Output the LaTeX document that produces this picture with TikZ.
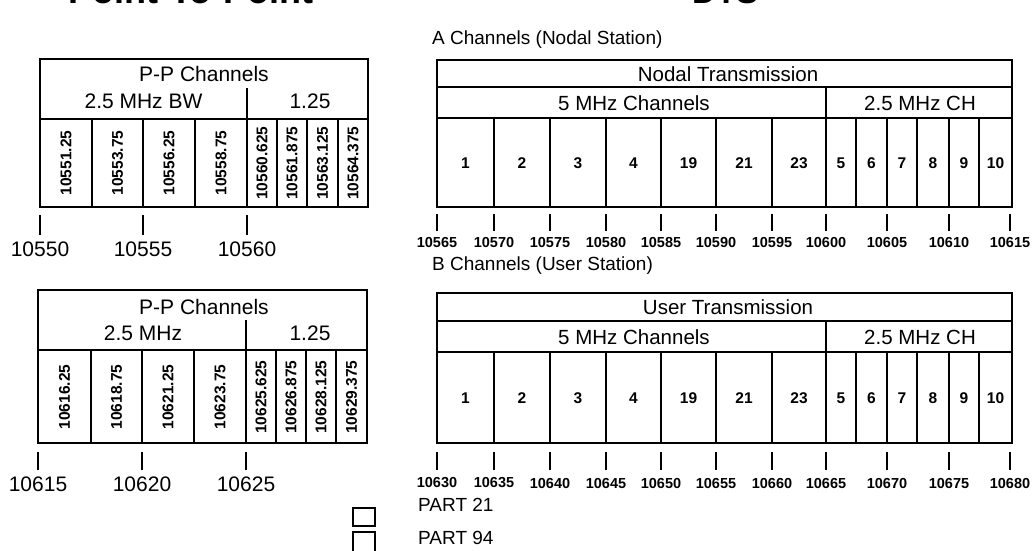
\documentclass[tikz,border=0pt]{standalone}
\usepackage{fontspec}
\setmainfont{Liberation Sans}
\usetikzlibrary{positioning}
\begin{document}
\begin{tikzpicture}[x=1pt,y=-1pt]
\tikzset{frm/.style={line width=2.6pt},dv/.style={line width=2pt},tk/.style={line width=2.6pt},
hd/.style={font=\fontsize{21}{21}\selectfont,inner sep=0pt},
hdr/.style={font=\fontsize{20.5}{20}\selectfont,inner sep=0pt},
fq/.style={font=\bfseries\fontsize{15.5}{15}\selectfont,rotate=90,inner sep=0pt},
num/.style={font=\bfseries\fontsize{15.5}{15}\selectfont,inner sep=0pt},
lbl/.style={font=\fontsize{21}{21}\selectfont,inner sep=0pt},
lbs/.style={font=\bfseries\fontsize{14.5}{14}\selectfont,inner sep=0pt},
captxt/.style={font=\fontsize{19}{19}\selectfont,inner sep=0pt,anchor=west}}
\useasboundingbox (0,0) rectangle (1032,550);
% titles, cut off by the top edge
\node[font=\bfseries\fontsize{36}{36}\selectfont,anchor=base west,inner sep=0pt] (ttlpp) at (68,3) {Point-To-Point};
\node[font=\bfseries\fontsize{33}{33}\selectfont,anchor=base west,inner sep=0pt] (ttldts) at (692,3) {DTS};
% point-to-point, upper
\draw[frm] (40,59) rectangle (368,207);
\draw[dv] (40,119) -- (368,119) (247,88) -- (247,207);
\foreach \x in {92,143,195,277,307,338} \draw[dv] (\x,119) -- (\x,207);
\node[hd] (ppa) at (204,74) {P-P Channels};
\node[hd] (ppabw) at (143.5,101) {2.5 MHz BW}; \node[hd] (ppan) at (310,101) {1.25};
\foreach \x/\f [count=\i] in {66/10551.25,117.5/10553.75,169/10556.25,221/10558.75,262/10560.625,292/10561.875,322.5/10563.125,353/10564.375}
  \node[fq] (fa\i) at (\x,163) {\f};
\foreach \x/\f [count=\i] in {40/10550,143/10555,247/10560} {\draw[tk] (\x,215) -- (\x,235); \node[lbl] (ta\i) at (\x,249) {\f};}
% point-to-point, lower
\draw[frm] (38,290) rectangle (367,443);
\draw[dv] (38,350) -- (367,350) (246,320) -- (246,443);
\foreach \x in {91,142,194,276,306,336} \draw[dv] (\x,350) -- (\x,443);
\node[hd] (ppb) at (204,307) {P-P Channels};
\node[hd] (ppbbw) at (143,333) {2.5 MHz}; \node[hd] (ppbn) at (310,333) {1.25};
\foreach \x/\f [count=\i] in {64.5/10616.25,116.5/10618.75,168/10621.25,220/10623.75,261/10625.625,291/10626.875,321/10628.125,351.5/10629.375}
  \node[fq] (fb\i) at (\x,397) {\f};
\foreach \x/\f [count=\i] in {38/10615,142/10620,246/10625} {\draw[tk] (\x,452) -- (\x,470); \node[lbl] (tb\i) at (\x,484) {\f};}
% A channels
\node[captxt] (capa) at (432,40) {A Channels (Nodal Station)};
\draw[frm] (437,60) rectangle (1012,207);
\draw[dv] (437,87) -- (1012,87) (437,118) -- (1012,118) (826,87) -- (826,207);
\foreach \x in {494,550,606,661,716,772,856,887,917,949,979} \draw[dv] (\x,118) -- (\x,207);
\node[hdr] (nodal) at (728,74) {Nodal Transmission};
\node[hdr] (fiva) at (634,103) {5 MHz Channels}; \node[hdr] (twoa) at (920,103) {2.5 MHz CH};
\foreach \x/\n [count=\i] in {465.5/1,522/2,578/3,633.5/4,688.5/19,744/21,799/23,841/5,871.5/6,902/7,933/8,964/9,995.5/10}
  \node[num] (ca\i) at (\x,163) {\n};
\foreach \x/\f [count=\i] in {437/10565,494/10570,550/10575,606/10580,661/10585,716/10590,772/10595,826/10600,887/10605,949/10610,1010/10615}
  {\draw[tk] (\x,214) -- (\x,231); \node[lbs] (sa\i) at (\x,242) {\f};}
% B channels
\node[captxt] (capb) at (432,266) {B Channels (User Station)};
\draw[frm] (437,293) rectangle (1012,443);
\draw[dv] (437,321) -- (1012,321) (437,352) -- (1012,352) (826,321) -- (826,443);
\foreach \x in {494,550,606,661,716,772,856,887,917,949,979} \draw[dv] (\x,352) -- (\x,443);
\node[hdr] (user) at (728,307) {User Transmission};
\node[hdr] (fivb) at (634,337) {5 MHz Channels}; \node[hdr] (twob) at (920,337) {2.5 MHz CH};
\foreach \x/\n [count=\i] in {465.5/1,522/2,578/3,633.5/4,688.5/19,744/21,799/23,841/5,871.5/6,902/7,933/8,964/9,995.5/10}
  \node[num] (cb\i) at (\x,398) {\n};
\foreach \x/\f [count=\i] in {437/10630,494/10635,550/10640,606/10645,661/10650,716/10655,772/10660,826/10665,887/10670,949/10675,1010/10680}
  {\draw[tk] (\x,452) -- (\x,470); \node[lbs] (sb\i) at (\x,483) {\f};}
% legend
\draw[dv] (353,508) rectangle (375,526) (353,532) rectangle (375,556);
\node[captxt] (pt21) at (418,505) {PART 21};
\node[captxt] (pt94) at (418,538) {PART 94};
\end{tikzpicture}
\end{document}
